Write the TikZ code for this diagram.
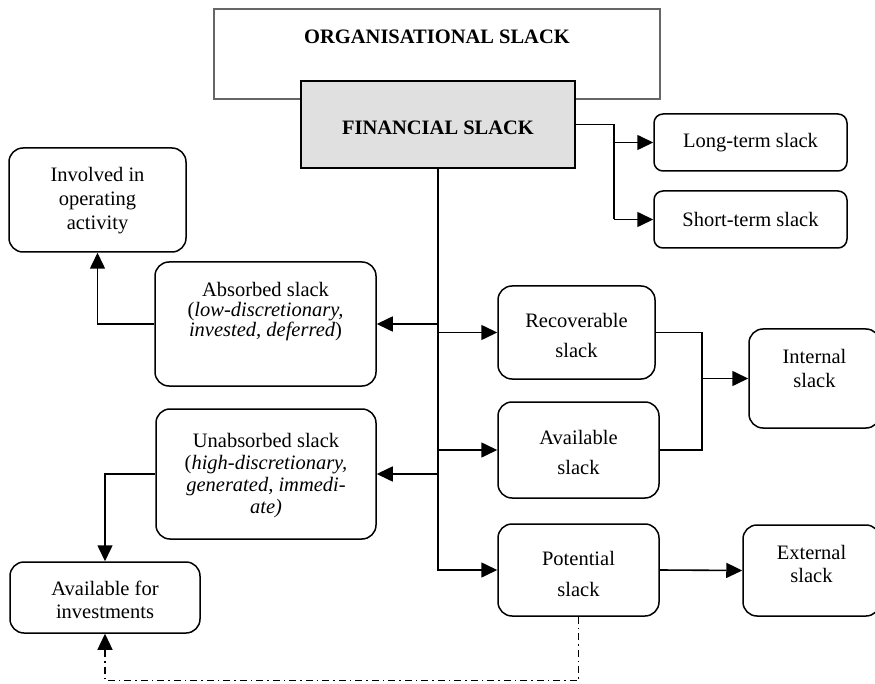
\documentclass[tikz,border=0pt]{standalone}
\usepackage{fontspec}
\setmainfont{Liberation Serif}
\usetikzlibrary{arrows.meta,calc}
\tikzset{
  base/.style={font=\fontsize{20.5}{23}\selectfont, align=center, inner sep=0pt},
  rbox/.style={base, draw, line width=1.5pt, rounded corners=14pt},
  sbox/.style={base, draw, line width=1.5pt, rounded corners=9pt},
  tpos/.style n args={2}{font=\fontsize{20.5}{#1}\selectfont, text height=#2, text depth=2pt},
  conn/.style={line width=1.6pt},
  arr/.style={conn, -{Triangle[length=16pt,width=15pt]}},
  ddash/.style={line width=1.3pt, dash pattern=on 7pt off 4pt on 1.5pt off 4pt}
}
\begin{document}
\begin{tikzpicture}[x=1pt,y=-1pt]
\useasboundingbox (0,0) rectangle (875,684);
% top boxes
\node[base, draw=black!60, line width=1.2pt, minimum width=446pt, minimum height=90pt] (org) at (437,54) {};
\node[base, anchor=base] (orgt) at (437,43.3) {\textbf{ORGANISATIONAL SLACK}};
\node[base, draw, fill=black!12, line width=1.2pt, minimum width=274pt, minimum height=87pt, tpos={23pt}{21.6pt}] (fin) at (438,124.5) {\textbf{FINANCIAL SLACK}};
% right top
\node[sbox, minimum width=193pt, minimum height=57pt] (longterm) at (750.5,142.5) {Long-term slack};
\node[sbox, minimum width=193pt, minimum height=57pt] (shortterm) at (750.5,219.5) {Short-term slack};
% left
\node[rbox, minimum width=177pt, minimum height=104pt, tpos={24pt}{62pt}] (involved) at (97.5,200) {Involved in\\operating\\activity};
\node[rbox, minimum width=221pt, minimum height=124pt, tpos={20pt}{27pt}] (absorbed) at (265.5,324) {Absorbed slack\\(\textit{low-discretionary,}\\\textit{invested, deferred})};
\node[rbox, minimum width=220pt, minimum height=130pt, tpos={22pt}{80pt}] (unabsorbed) at (266,474) {Unabsorbed slack\\(\textit{high-discretionary,}\\\textit{generated, immedi-}\\\textit{ate)}};
\node[rbox, minimum width=190pt, minimum height=71pt, tpos={23pt}{43pt}] (afi) at (105,597.5) {Available for\\investments};
% middle
\node[rbox, minimum width=157pt, minimum height=93pt, tpos={30pt}{51pt}] (recoverable) at (576.5,332.5) {Recoverable\\slack};
\node[rbox, minimum width=161pt, minimum height=96pt, tpos={30pt}{50pt}] (available) at (578.5,450) {Available\\slack};
\node[rbox, minimum width=161pt, minimum height=92pt, tpos={31pt}{54pt}] (potential) at (578.5,570) {Potential\\slack};
% right
\node[rbox, minimum width=131pt, minimum height=99pt, tpos={24pt}{19pt}] (internal) at (814.5,378.5) {Internal\\slack};
\node[rbox, minimum width=137pt, minimum height=91pt, tpos={23pt}{25pt}] (external) at (811.5,570.5) {External\\slack};
% connectors
\coordinate (jr) at (614,124.5);
\draw[conn] (fin.east) -- (jr) -- (jr |- shortterm.west);
\draw[arr] (jr |- longterm.west) -- (longterm.west);
\draw[arr] (jr |- shortterm.west) -- (shortterm.west);
\draw[arr] (fin.south) |- (potential.west);
\draw[arr] (fin.south |- absorbed.east) -- (absorbed.east);
\draw[arr] (fin.south |- unabsorbed.east) -- (unabsorbed.east);
\draw[arr] (fin.south |- recoverable.west) -- (recoverable.west);
\draw[arr] (fin.south |- available.west) -- (available.west);
\draw[arr] (absorbed.west) -| (involved.south);
\draw[arr] (unabsorbed.west) -| (afi.north);
\coordinate (jm) at ($(internal.west)+(-46,0)$);
\draw[conn] (recoverable.east) -| (jm);
\draw[conn] (available.east) -| (jm);
\draw[arr] (jm) -- (internal.west);
\draw[arr] (potential.east) -- (external.west);
\coordinate (jb) at ($(potential.south)+(0,64)$);
\draw[ddash, -{Triangle[length=16pt,width=15pt]}] (potential.south) -- (jb) -| (afi.south);
\end{tikzpicture}
\end{document}
